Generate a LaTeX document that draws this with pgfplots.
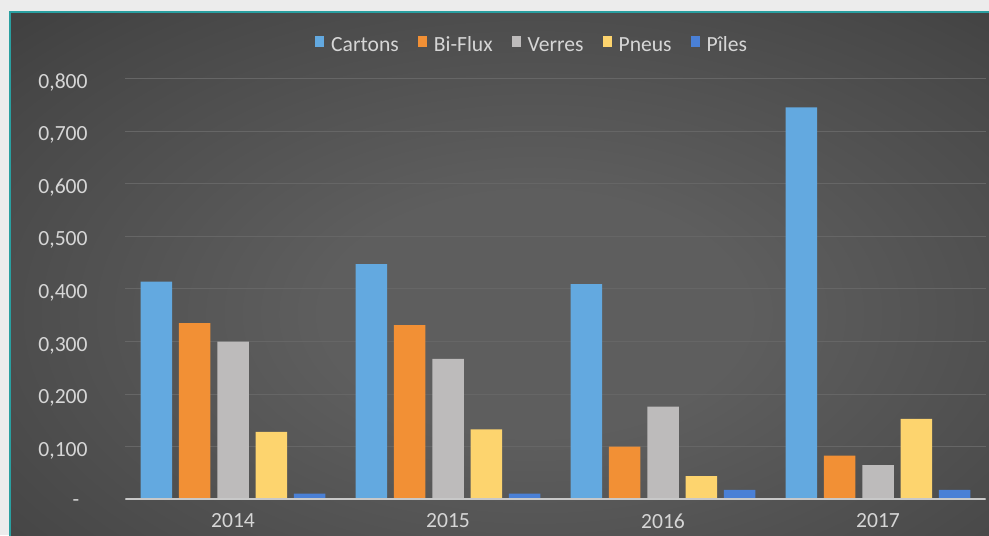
\documentclass[border=0pt]{standalone}
\usepackage{fontspec}
\setmainfont{Carlito}
\usepackage{pgfplots}
\pgfplotsset{compat=1.18}
\definecolor{cCart}{HTML}{63A9E0}
\definecolor{cBi}{HTML}{F29035}
\definecolor{cVer}{HTML}{BDBBBB}
\definecolor{cPne}{HTML}{FDD46E}
\definecolor{cPil}{HTML}{4A80D6}
\definecolor{txt}{HTML}{D6D6D6}
\definecolor{tealc}{HTML}{2A9FA0}
\definecolor{outerc}{HTML}{ECECEC}
\definecolor{bgin}{HTML}{5E5E5E}
\definecolor{bgmid}{HTML}{474747}
\definecolor{bgout}{HTML}{2C2C2C}
\definecolor{gridc}{HTML}{666666}
\definecolor{basec}{HTML}{C8C8C8}
\pgfdeclareradialshading{panel}{\pgfpoint{0bp}{0bp}}{color(0bp)=(bgin); color(10bp)=(bgin); color(30bp)=(bgmid); color(50bp)=(bgout)}
\begin{document}
\begin{tikzpicture}
\begin{scope}[x=0.5pt,y=0.5pt]
\useasboundingbox (0,0) rectangle (989,535);
\clip (0,0) rectangle (989,535);
\fill[outerc] (0,0) rectangle (989,535);
\shade[shading=panel] (9.5,-80) rectangle (1060,522.5);
\draw[tealc, line width=1pt] (9.5,-80) -- (9.5,522.5) -- (1060,522.5);
\end{scope}
\begin{axis}[
  at={(62.75pt,17.85pt)}, anchor=south west,
  scale only axis, width=430pt, height=210.4pt,
  ybar, bar width=15.75pt, ybar=3.4pt,
  xmin=-0.5, xmax=3.5, ymin=0, ymax=0.8,
  xtick={0,1,2,3}, xticklabels={2014,2015,2016,2017},
  ytick={0,0.1,0.2,0.3,0.4,0.5,0.6,0.7,0.8},
  yticklabels={{\makebox[7.5pt][l]{-}},{0,100},{0,200},{0,300},{0,400},{0,500},{0,600},{0,700},{0,800}},
  /pgf/number format/assume math mode=true,
  ymajorgrids, grid style={color=gridc, line width=0.5pt},
  axis line style={draw=none}, major tick length=0pt, tick style={draw=none},
  ticklabel style={font=\fontsize{10.8}{12}\selectfont, text=txt},
  xticklabel style={anchor=north, inner sep=0pt, yshift=-7pt},
  yticklabel style={anchor=east, inner sep=0pt, xshift=-18.75pt, yshift=-2pt},
  legend style={at={(0.474,1.078)}, anchor=center, draw=none, fill=none, text=txt,
    font=\fontsize{10.8}{12}\selectfont, legend columns=5,
    /tikz/every even column/.append style={column sep=7.5pt}},
  legend image code/.code={\fill[#1] (0pt,-0.6pt) rectangle (4.5pt,5pt);},
]
\addplot[fill=cCart, draw=none] coordinates {(0,0.414) (1,0.447) (2,0.409) (3,0.745)};
\addlegendentry{\hspace{1.5pt}Cartons}
\addplot[fill=cBi, draw=none] coordinates {(0,0.335) (1,0.331) (2,0.100) (3,0.083)};
\addlegendentry{\hspace{1.5pt}Bi-Flux}
\addplot[fill=cVer, draw=none] coordinates {(0,0.300) (1,0.267) (2,0.176) (3,0.065)};
\addlegendentry{\hspace{1.5pt}Verres}
\addplot[fill=cPne, draw=none] coordinates {(0,0.128) (1,0.133) (2,0.044) (3,0.153)};
\addlegendentry{\hspace{1.5pt}Pneus}
\addplot[fill=cPil, draw=none] coordinates {(0,0.011) (1,0.011) (2,0.018) (3,0.018)};
\addlegendentry{\hspace{1.5pt}Pîles}
\draw[basec, line width=1pt] (axis cs:-0.5,0) -- (axis cs:3.5,0);
\end{axis}
\end{tikzpicture}
\end{document}
